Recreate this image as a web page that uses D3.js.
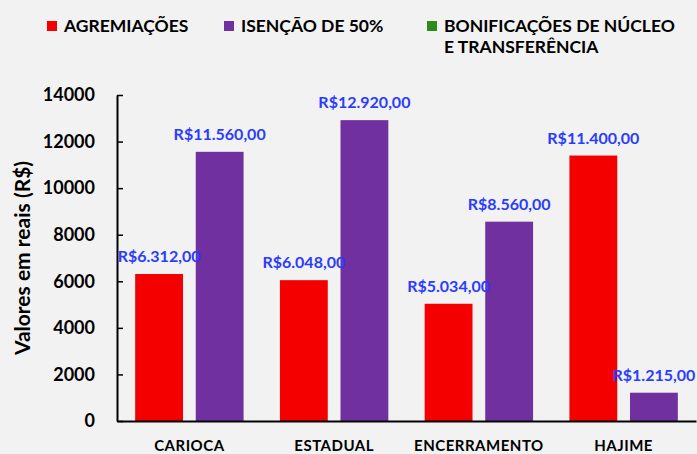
<!DOCTYPE html>
<html>
<head>
<meta charset="utf-8">
<script src="https://cdn.jsdelivr.net/npm/d3@7"></script>
<style>
  body { margin: 0; background: #f2f2f2; }
  svg { display: block; font-family: Lato, 'Open Sans', sans-serif; font-weight: 700; }
</style>
</head>
<body>
<div id="chart"></div>
<script>
// chart data
const categories = ['CARIOCA', 'ESTADUAL', 'ENCERRAMENTO', 'HAJIME'];
const seriesNames = ['AGREMIAÇÕES', 'ISENÇÃO DE 50%', 'BONIFICAÇÕES DE NÚCLEO E TRANSFERÊNCIA'];
const agremiacoes = [6312, 6048, 5034, 11400];
const isencao = [11560, 12920, 8560, 1215];
const yTicks = [0, 2000, 4000, 6000, 8000, 10000, 12000, 14000];
const colors = ['#f50000', '#7030a0', '#2f8a1c'];

const width = 697, height = 454;
const margin = { top: 95, right: 1, bottom: 33, left: 117 };

const svg = d3.select('#chart').append('svg')
  .attr('width', width)
  .attr('height', height);

// only the first two series carry values
const barSeries = [agremiacoes, isencao];
const data = categories.map((c, i) => ({
  cat: c,
  values: barSeries.map((s, j) => ({ key: j, value: s[i] })),
}));

// scales
const x0 = d3.scaleBand()
  .domain(categories)
  .range([margin.left, width - margin.right]);

const x1 = d3.scaleBand()
  .domain(d3.range(barSeries.length))
  .range([0, x0.bandwidth()])
  .paddingInner(0.21)
  .paddingOuter(0.3);

const y = d3.scaleLinear()
  .domain([0, 14000])
  .range([height - margin.bottom, margin.top]);

const fmt = (v) => 'R$' + v.toLocaleString('pt-BR', { minimumFractionDigits: 2 });

// bars
const groups = svg.append('g').selectAll('g')
  .data(data)
  .join('g')
  .attr('transform', (d) => `translate(${x0(d.cat)},0)`);

groups.selectAll('rect')
  .data((d) => d.values)
  .join('rect')
  .attr('x', (d) => x1(d.key))
  .attr('y', (d) => y(d.value))
  .attr('width', x1.bandwidth())
  .attr('height', (d) => y(0) - y(d.value))
  .attr('fill', (d) => colors[d.key]);

groups.selectAll('text')
  .data((d) => d.values)
  .join('text')
  .attr('x', (d) => x1(d.key) + x1.bandwidth() / 2)
  .attr('y', (d) => y(d.value) - 12)
  .attr('text-anchor', 'middle')
  .attr('font-size', '16px')
  .attr('fill', '#2a3cff')
  .text((d) => fmt(d.value));

// y axis
const yAxis = svg.append('g')
  .attr('transform', `translate(${margin.left},0)`)
  .call(d3.axisLeft(y).tickValues(yTicks).tickFormat(d3.format('d'))
    .tickSizeInner(-6).tickSizeOuter(0).tickPadding(22));

yAxis.select('.domain').attr('stroke', '#000').attr('stroke-width', 2);
yAxis.selectAll('.tick line').attr('stroke', '#000').attr('stroke-width', 1.5);
yAxis.selectAll('.tick text')
  .attr('font-size', '18px')
  .attr('font-family', 'Lato, sans-serif')
  .attr('font-weight', 700)
  .attr('fill', '#000');

// x axis
const xAxis = svg.append('g')
  .attr('transform', `translate(0,${y(0)})`)
  .call(d3.axisBottom(x0).tickSize(0).tickPadding(19));

xAxis.select('.domain').attr('stroke', '#000').attr('stroke-width', 2);
xAxis.selectAll('.tick text')
  .attr('font-size', '15px')
  .attr('font-family', 'Lato, sans-serif')
  .attr('font-weight', 700)
  .attr('letter-spacing', '0.5px')
  .attr('fill', '#000');

// y title
svg.append('text')
  .attr('transform', `translate(30,${258}) rotate(-90)`)
  .attr('text-anchor', 'middle')
  .attr('font-size', '21px')
  .attr('fill', '#000')
  .text('Valores em reais (R$)');

// legend
const legendX = [47, 224, 427];
const legend = svg.append('g').selectAll('g')
  .data(seriesNames)
  .join('g')
  .attr('transform', (d, i) => `translate(${legendX[i]},21)`);

legend.append('rect')
  .attr('width', 10)
  .attr('height', 10)
  .attr('fill', (d, i) => colors[i]);

legend.append('text')
  .attr('x', 17)
  .attr('y', 10.5)
  .attr('font-size', '17.5px')
  .attr('fill', '#000')
  .each(function (d) {
    const lines = d.length > 25 ? ['BONIFICAÇÕES DE NÚCLEO', 'E TRANSFERÊNCIA'] : [d];
    d3.select(this).selectAll('tspan')
      .data(lines)
      .join('tspan')
      .attr('x', 17)
      .attr('dy', (l, i) => (i === 0 ? 0 : 21))
      .text((l) => l);
  });
</script>
</body>
</html>
